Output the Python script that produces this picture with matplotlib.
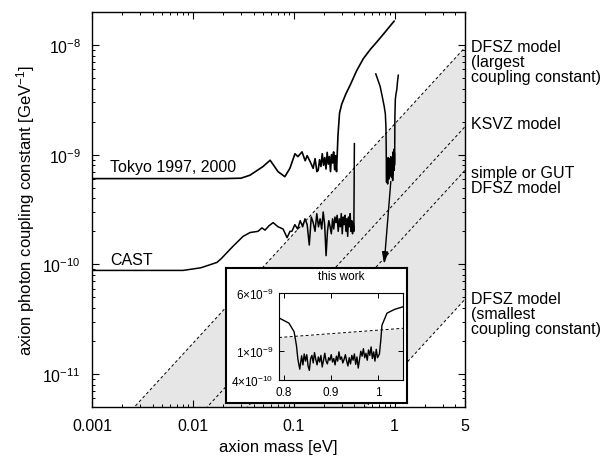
import numpy as np
import matplotlib
matplotlib.use('Agg')
import matplotlib.pyplot as plt
from matplotlib.ticker import NullFormatter, NullLocator

plt.rcParams['font.family'] = ['Liberation Sans', 'DejaVu Sans']
plt.rcParams['mathtext.fontset'] = 'custom'
plt.rcParams['mathtext.rm'] = 'Liberation Sans'
plt.rcParams['mathtext.it'] = 'Liberation Sans:italic'
plt.rcParams['mathtext.default'] = 'regular'

# axion models: g = coef * m  (GeV^-1 per eV)
model_labels = ['DFSZ model\n(largest\ncoupling constant)', 'KSVZ model',
                'simple or GUT\nDFSZ model', 'DFSZ model\n(smallest\ncoupling constant)']
model_coef = [1.9e-9, 3.6e-10, 1.44e-10, 9.6e-12]

# Tokyo 1997, 2000 limit
tokyo_m = [0.001, 0.02, 0.03, 0.0369, 0.0497, 0.0584, 0.070, 0.0817, 0.0917, 0.103,
           0.110, 0.121, 0.130, 0.136, 0.146, 0.156, 0.163, 0.170]
tokyo_g = [6.05e-10, 6.05e-10, 6.1e-10, 6.5e-10, 7.8e-10, 8.9e-10, 7.0e-10, 6.3e-10, 7.5e-10,
           1.02e-9, 9.6e-10, 1.06e-9, 8.8e-10, 9.8e-10, 8.6e-10, 7.5e-10, 9.2e-10, 7.0e-10]
tokyo_noise = [7.2, 9.0, 7.8, 10.2, 8.0, 9.4, 7.4, 10.5, 8.2, 9.6, 7.0, 10.0, 8.4, 10.6,
               7.3, 9.8, 7.0]  # x 1e-10
tokyo_rise_m = [0.275, 0.285, 0.30, 0.33, 0.363, 0.42, 0.49, 0.58, 0.67, 0.8, 0.99]
tokyo_rise_g = [1.5e-9, 2.4e-9, 2.9e-9, 3.6e-9, 4.3e-9, 5.8e-9, 7.5e-9, 9.2e-9, 1.07e-8,
                1.3e-8, 1.65e-8]

# CAST limit
cast_m = [0.001, 0.008, 0.012, 0.0173, 0.019, 0.025, 0.0315, 0.037, 0.0443, 0.0485,
          0.052, 0.057, 0.0625, 0.070, 0.0785, 0.086, 0.092]
cast_g = [8.8e-11, 8.8e-11, 9.3e-11, 1.04e-10, 1.12e-10, 1.46e-10, 1.80e-10, 1.95e-10,
          2.0e-10, 2.15e-10, 2.05e-10, 2.25e-10, 2.4e-10, 2.2e-10, 2.1e-10, 1.75e-10, 2.0e-10]
cast_noise = [2.0, 2.3, 2.1, 2.5, 2.2, 2.6, 2.3, 1.5, 2.7, 2.4, 2.0, 2.9, 2.2, 2.6, 2.1,
              3.0, 2.3, 1.2, 2.0, 2.5, 2.2, 1.9, 2.6, 2.1, 2.7, 2.4, 2.8, 2.0, 2.6, 2.2,
              2.9, 1.9, 2.7, 2.3, 2.8, 2.0, 2.6, 1.8, 2.7, 2.2, 2.9, 2.0, 2.5, 1.9, 2.4]  # x 1e-10
cast_spike_m = [0.395, 0.40]
cast_spike_g = [2.0e-10, 1.26e-9]

# this work
work_left_m = [0.652, 0.72, 0.76, 0.79, 0.811, 0.822, 0.827, 0.830, 0.834]
work_left_g = [5.45e-9, 4.2e-9, 3.3e-9, 2.76e-9, 2.35e-9, 1.8e-9, 1.17e-9, 7.7e-10, 5.6e-10]
work_noise = [8.5, 6.4, 9.0, 7.2, 8.8, 6.2, 5.4, 7.8, 8.6, 6.8, 9.4, 7.6, 6.4, 8.2, 7.0,
              8.6, 6.0, 7.4, 9.2, 7.2, 6.6, 8.0, 7.4, 8.8, 7.0, 7.8, 6.4, 8.4, 7.2, 9.6,
              7.6, 8.2, 6.8, 7.6, 8.8, 7.2, 6.2, 8.0, 6.6, 8.6, 7.4, 9.0, 6.5, 8.2, 5.8,
              7.6, 9.8, 8.4, 10.6, 8.0, 9.2, 7.4, 10.2, 8.6, 11.2, 7.8, 9.6, 7.2, 10.4, 8.0]  # x 1e-10
work_right_m = [1.003, 1.006, 1.0084, 1.019, 1.035, 1.0526, 1.07, 1.09]
work_right_g = [9.0e-10, 1.4e-9, 2.2e-9, 3.2e-9, 3.6e-9, 3.9e-9, 4.6e-9, 5.3e-9]

xmin, xmax = 0.001, 5
ymin, ymax = 5e-12, 2e-8

fig = plt.figure(figsize=(6.12, 4.6), dpi=100)
ax = fig.add_axes([92/612, 1-408/460, 373/612, 395/460])

mm = np.array([xmin, xmax])
ax.fill_between(mm, model_coef[3]*mm, model_coef[0]*mm, color='#e6e6e6', lw=0, zorder=0)
for c in model_coef:
    ax.plot(mm, c*mm, 'k', lw=0.7, dashes=(3, 2.5), zorder=1)

tok_m = np.concatenate([tokyo_m, np.linspace(0.175, 0.266, len(tokyo_noise)), tokyo_rise_m])
tok_g = np.concatenate([tokyo_g, np.array(tokyo_noise)*1e-10, tokyo_rise_g])
ax.plot(tok_m, tok_g, 'k', lw=1.2)

cm = np.concatenate([cast_m, np.linspace(0.096, 0.39, len(cast_noise)), cast_spike_m])
cg = np.concatenate([cast_g, np.array(cast_noise)*1e-10, cast_spike_g])
ax.plot(cm, cg, 'k', lw=1.1)

wm = np.concatenate([work_left_m, np.linspace(0.838, 0.999, len(work_noise)), work_right_m])
wg = np.concatenate([work_left_g, np.array(work_noise)*1e-10, work_right_g])
ax.plot(wm, wg, 'k', lw=1.1)

ax.annotate('', xy=(0.789, 1.0e-10), xytext=(0.919, 5.7e-10),
            arrowprops=dict(arrowstyle='-|>,head_length=0.7,head_width=0.18', color='k',
                            lw=1.0, shrinkA=0, shrinkB=0))

ax.text(0.00151, 6.7e-10, 'Tokyo 1997, 2000', fontsize=11.5, va='bottom')
ax.text(0.00151, 9.4e-11, 'CAST', fontsize=11.5, va='bottom')

for lab, c, dy in zip(model_labels, model_coef, [6, 8, 4, 6]):
    ax.annotate(lab, xy=(1, c*xmax), xycoords=('axes fraction', 'data'),
                xytext=(4, dy), textcoords='offset points', va='top', ha='left',
                fontsize=11.5, linespacing=1.0, annotation_clip=False)

ax.set_xscale('log')
ax.set_yscale('log')
ax.set_xlim(xmin, xmax)
ax.set_ylim(ymin, ymax)
ax.set_xticks([0.001, 0.01, 0.1, 1, 5])
ax.set_xticklabels(['0.001', '0.01', '0.1', '1', '5'])
ax.xaxis.set_minor_formatter(NullFormatter())
ax.yaxis.set_minor_formatter(NullFormatter())
ax.tick_params(which='both', direction='in', top=True, right=True, labelsize=11.5, pad=8)
ax.tick_params(which='major', length=5, width=0.8)
ax.tick_params(which='minor', length=2.5, width=0.7)
ax.set_xlabel('axion mass [eV]', fontsize=12)
ax.set_ylabel('axion photon coupling constant [GeV$^{-1}$]', fontsize=12)
for s in ax.spines.values():
    s.set_linewidth(1.0)

# inset
frame = fig.add_axes([226/612, 1-404/460, 181/612, 135/460], zorder=5)
frame.set_xticks([])
frame.set_yticks([])
frame.set_facecolor('white')
for s in frame.spines.values():
    s.set_linewidth(1.5)
fig.text(341/612, 1-277/460, 'this work', fontsize=8.5, ha='center', va='center', zorder=7)

ins = fig.add_axes([279/612, 1-381/460, 124/612, 87/460], zorder=6)
ins_x0, ins_x1 = 0.79, 1.053
im = np.array([ins_x0, ins_x1])
ins.fill_between(im, 1e-10, model_coef[0]*im, color='#e6e6e6', lw=0, zorder=0)
ins.plot(im, model_coef[0]*im, 'k', lw=0.7, dashes=(3, 2.5))
ins.plot(wm, wg, 'k', lw=1.0)
ins.set_yscale('log')
ins.set_xlim(ins_x0, ins_x1)
ins.set_ylim(4e-10, 6e-9)
ins.set_xticks([0.8, 0.9, 1.0])
ins.set_xticklabels(['0.8', '0.9', '1'])
ins.set_yticks([4e-10, 1e-9, 6e-9])
ins.set_yticklabels(['$4×10^{-10}$', '$1×10^{-9}$', '$6×10^{-9}$'])
ins.yaxis.set_minor_locator(NullLocator())
ins.tick_params(direction='in', top=True, right=True, labelsize=8.5, length=3.5, width=0.7, pad=4)
for s in ins.spines.values():
    s.set_linewidth(0.8)

fig.savefig('out.png', dpi=100)
